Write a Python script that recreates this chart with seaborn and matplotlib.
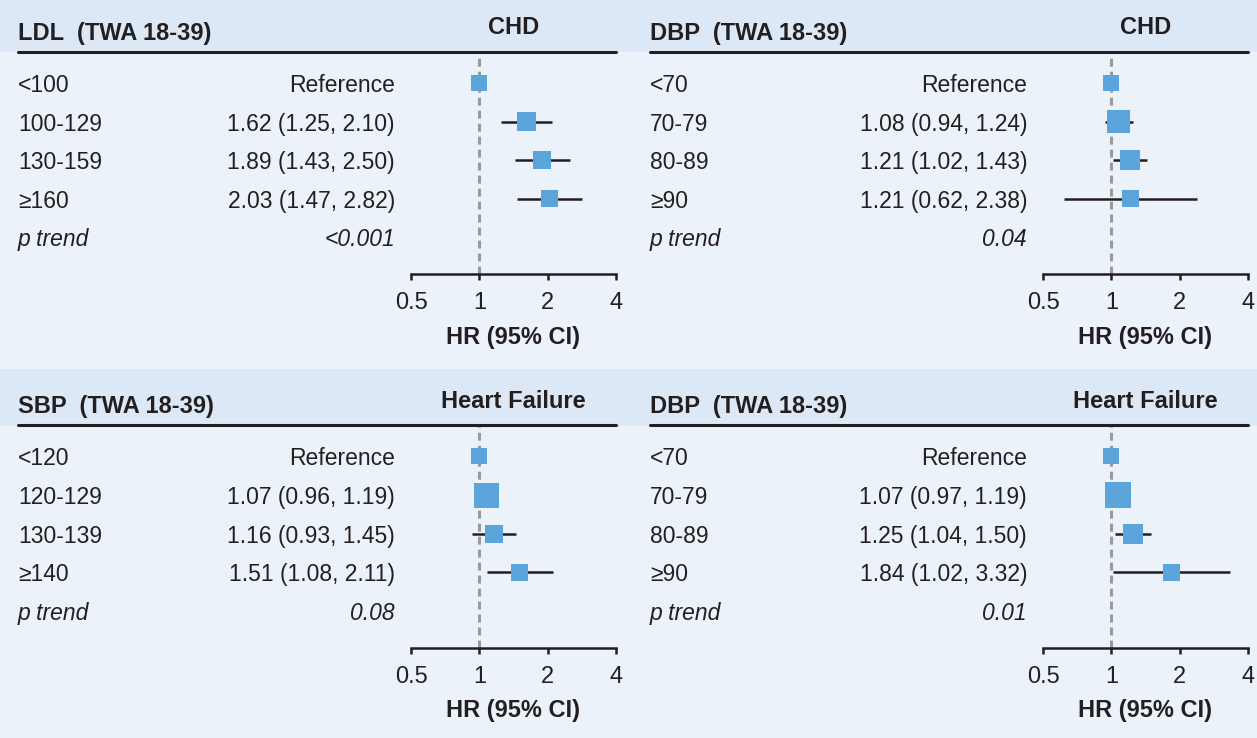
import numpy as np
import pandas as pd
import matplotlib
matplotlib.use("Agg")
import matplotlib.pyplot as plt
import seaborn as sns
from matplotlib.patches import Rectangle
from matplotlib.lines import Line2D
from matplotlib.ticker import FixedLocator, FixedFormatter, NullLocator
from matplotlib.transforms import blended_transform_factory

nan = np.nan

# ---------------- data ----------------
ldl_levels = ["<100", "100-129", "130-159", "≥160"]
ldl_hr = [1.00, 1.62, 1.89, 2.03]
ldl_lo = [nan, 1.25, 1.43, 1.47]
ldl_hi = [nan, 2.10, 2.50, 2.82]
ldl_p = "<0.001"
ldl_box = [16, 19, 18, 17]

dbp_chd_levels = ["<70", "70-79", "80-89", "≥90"]
dbp_chd_hr = [1.00, 1.08, 1.21, 1.21]
dbp_chd_lo = [nan, 0.94, 1.02, 0.62]
dbp_chd_hi = [nan, 1.24, 1.43, 2.38]
dbp_chd_p = "0.04"
dbp_chd_box = [16, 23, 20, 17]

sbp_hf_levels = ["<120", "120-129", "130-139", "≥140"]
sbp_hf_hr = [1.00, 1.07, 1.16, 1.51]
sbp_hf_lo = [nan, 0.96, 0.93, 1.08]
sbp_hf_hi = [nan, 1.19, 1.45, 2.11]
sbp_hf_p = "0.08"
sbp_hf_box = [16, 25, 18, 17]

dbp_hf_levels = ["<70", "70-79", "80-89", "≥90"]
dbp_hf_hr = [1.00, 1.07, 1.25, 1.84]
dbp_hf_lo = [nan, 0.97, 1.04, 1.02]
dbp_hf_hi = [nan, 1.19, 1.50, 3.32]
dbp_hf_p = "0.01"
dbp_hf_box = [16, 26, 20, 17]

x_ticks = [0.5, 1, 2, 4]
x_tick_labels = ["0.5", "1", "2", "4"]

panels = [
    dict(title="LDL  (TWA 18-39)", outcome="CHD", levels=ldl_levels, hr=ldl_hr,
         lo=ldl_lo, hi=ldl_hi, p=ldl_p, box=ldl_box, ox=0, oy=0),
    dict(title="DBP  (TWA 18-39)", outcome="CHD", levels=dbp_chd_levels, hr=dbp_chd_hr,
         lo=dbp_chd_lo, hi=dbp_chd_hi, p=dbp_chd_p, box=dbp_chd_box, ox=632, oy=0),
    dict(title="SBP  (TWA 18-39)", outcome="Heart Failure", levels=sbp_hf_levels, hr=sbp_hf_hr,
         lo=sbp_hf_lo, hi=sbp_hf_hi, p=sbp_hf_p, box=sbp_hf_box, ox=0, oy=373.5),
    dict(title="DBP  (TWA 18-39)", outcome="Heart Failure", levels=dbp_hf_levels, hr=dbp_hf_hr,
         lo=dbp_hf_lo, hi=dbp_hf_hi, p=dbp_hf_p, box=dbp_hf_box, ox=632, oy=373.5),
]

# ---------------- style ----------------
sns.set_theme(style="white")
FONT = ["Liberation Sans Narrow", "Liberation Sans", "DejaVu Sans"]
plt.rcParams["font.family"] = FONT

W, H = 1257, 738
DPI = 100
BODY = "#ECF2FA"
BAND = "#DCE8F5"
INK = "#231F20"
BLUE = "#5BA5DA"
GRAY = "#9A9A9A"
FS = 16.5

fig = plt.figure(figsize=(W / DPI, H / DPI), dpi=DPI, facecolor=BODY)


def fx(px):
    return px / W


def fy(py):
    return 1 - py / H


# header bands
for top, bot in [(0, 52), (369, 426)]:
    fig.patches.append(Rectangle((0, fy(bot)), 1, fy(top) - fy(bot), transform=fig.transFigure,
                                 facecolor=BAND, edgecolor="none", zorder=0))

ROW0 = 83.0
STEP = 38.6
for pnl in panels:
    ox, oy = pnl["ox"], pnl["oy"]
    ax_l, ax_r = 411 + ox, 616 + ox
    ax_t, ax_b = 52 + oy, 274 + oy
    ax = fig.add_axes([fx(ax_l), fy(ax_b), fx(ax_r) - fx(ax_l), fy(ax_t) - fy(ax_b)])
    ax.set_facecolor("none")
    ax.set_xscale("log", base=2)
    ax.set_xlim(0.5, 4)
    ax.set_ylim((ax_b - oy - ROW0) / STEP, -(ROW0 - (ax_t - oy)) / STEP)

    n = len(pnl["levels"])
    df = pd.DataFrame({"level": pnl["levels"], "hr": pnl["hr"], "lo": pnl["lo"],
                       "hi": pnl["hi"], "row": np.arange(n)})

    # reference line
    ax.axvline(1, color=GRAY, lw=2.2, dashes=(2.6, 1.65), zorder=1)
    # CIs
    ci = df.dropna()
    ax.hlines(ci["row"], ci["lo"], ci["hi"], color=INK, lw=1.8, zorder=2)
    # boxes
    sizes = [(b * 72 / DPI) ** 2 for b in pnl["box"]]
    sns.scatterplot(data=df, x="hr", y="row", marker="s", s=sizes, color=BLUE,
                    linewidth=0, ax=ax, zorder=3, legend=False)

    # axis styling
    for side in ["top", "left", "right"]:
        ax.spines[side].set_visible(False)
    ax.spines["bottom"].set_color(INK)
    ax.spines["bottom"].set_linewidth(1.8)
    ax.xaxis.set_major_locator(FixedLocator(x_ticks))
    ax.xaxis.set_major_formatter(FixedFormatter(x_tick_labels))
    ax.xaxis.set_minor_locator(NullLocator())
    ax.tick_params(axis="x", direction="out", length=4.5, width=1.8, color=INK,
                   labelsize=FS + 0.5, labelcolor=INK, pad=8.5, bottom=True)
    ax.set_yticks([])
    ax.set_xlabel("")
    ax.set_ylabel("")

    # text columns (x in figure pixels, y on data rows)
    tr = blended_transform_factory(fig.transFigure, ax.transData)
    for i, row in df.iterrows():
        ax.text(fx(18 + ox), row["row"], row["level"], transform=tr, ha="left",
                va="center_baseline", fontsize=FS, color=INK)
        if np.isnan(row["lo"]):
            val = "Reference"
        else:
            val = f"{row['hr']:.2f} ({row['lo']:.2f}, {row['hi']:.2f})"
        ax.text(fx(395 + ox), row["row"], val, transform=tr, ha="right",
                va="center_baseline", fontsize=FS, color=INK)
    ax.text(fx(18 + ox), n, "p trend", transform=tr, ha="left", va="center_baseline",
            fontsize=FS, color=INK, style="italic")
    ax.text(fx(395 + ox), n, pnl["p"], transform=tr, ha="right", va="center_baseline",
            fontsize=FS, color=INK, style="italic")

    # header
    fig.text(fx(18 + ox), fy(31 + oy), pnl["title"], ha="left", va="center_baseline",
             fontsize=FS + 0.5, fontweight="bold", color=INK)
    fig.text(fx(513.5 + ox), fy(25 + oy), pnl["outcome"], ha="center", va="center_baseline",
             fontsize=FS + 0.5, fontweight="bold", color=INK)
    fig.lines.append(Line2D([fx(18 + ox), fx(616 + ox)], [fy(52 + oy), fy(52 + oy)],
                            transform=fig.transFigure, color=INK, lw=2.2))
    fig.text(fx(513.5 + ox), fy(335 + oy), "HR (95% CI)", ha="center", va="center_baseline",
             fontsize=FS + 0.5, fontweight="bold", color=INK)

fig.savefig("out.png", dpi=DPI, facecolor=BODY)
